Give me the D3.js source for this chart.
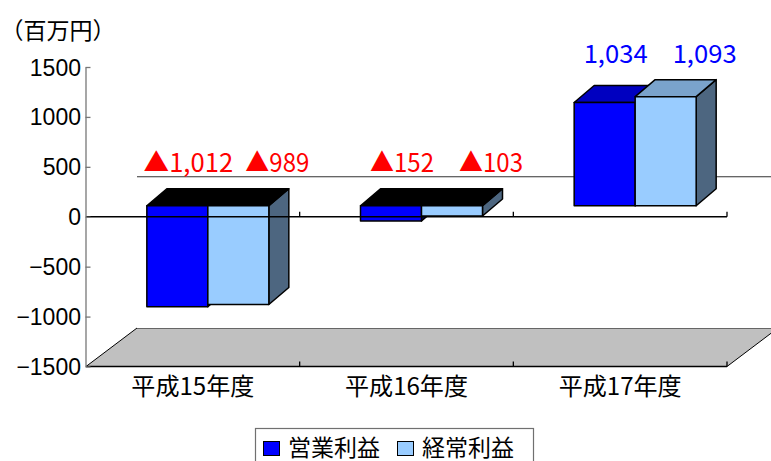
<!DOCTYPE html>
<html>
<head>
<meta charset="utf-8">
<script src="https://cdn.jsdelivr.net/npm/d3@7/dist/d3.min.js"></script>
<style>
  html, body { margin: 0; padding: 0; background: #ffffff; }
  svg { display: block; }
</style>
</head>
<body>
<svg id="chart" width="771" height="461"></svg>
<script>
// ---- data ----
const categories = ["平成15年度", "平成16年度", "平成17年度"];
const seriesNames = ["営業利益", "経常利益"];
const operatingProfit = [-1012, -152, 1034];   // 営業利益
const ordinaryProfit  = [-989, -103, 1093];    // 経常利益
const yTicks = [-1500, -1000, -500, 0, 500, 1000, 1500];
const unitLabel = "（百万円）";

// ---- layout ----
const svg = d3.select("#chart");
const JP = "'Noto Sans CJK JP', 'Noto Sans', sans-serif";
const NUM = "'Liberation Sans', Arial, sans-serif";

// width of a string set in a fixed-pitch gothic: half-width chars 0.5em, others 1em
const gothicWidth = (s, size) =>
  Array.from(s).reduce((w, c) => w + (c.charCodeAt(0) < 0x2000 ? 0.5 : 1) * size, 0);

const y = d3.scaleLinear().domain([-1500, 1500]).range([366.5, 67]);
const x = d3.scaleBand().domain(categories).range([86, 727]).padding(0);
const barW = 61;
const sub = d3.scaleBand().domain(seriesNames).range([0, barW * 2]);

// 3D offsets
const front = { dx: 15, dy: -11 };   // bar front plane relative to the axis plane
const depth = { dx: 20, dy: -17 };   // bar depth
const floorDepth = { dx: 51, dy: -38.5 };
const wallDepthDy = -40;

const series = [
  { name: seriesNames[0], values: operatingProfit, face: "#0000FF", top: "#0000C0", side: "#000080" },
  { name: seriesNames[1], values: ordinaryProfit,  face: "#99CCFF", top: "#7AA3CC", side: "#4D6680" }
];

// ---- floor ----
const y0 = y(0), yMin = y(-1500);
const xL = x.range()[0], xR = x.range()[1];
svg.append("polygon")
  .attr("points", [[xL, yMin], [xR, yMin], [xR + floorDepth.dx, yMin + floorDepth.dy],
                   [xL + floorDepth.dx, yMin + floorDepth.dy]].map(p => p.join(",")).join(" "))
  .attr("fill", "#C0C0C0").attr("stroke", "none");
svg.append("path")
  .attr("d", `M${xL},${yMin}L${xL + floorDepth.dx},${yMin + floorDepth.dy}`)
  .attr("stroke", "#000").attr("stroke-width", 1);
svg.append("path")
  .attr("d", `M${xR},${yMin}L${xR + floorDepth.dx},${yMin + floorDepth.dy}`)
  .attr("stroke", "#000").attr("stroke-width", 1);
svg.append("path")
  .attr("d", `M${xL + floorDepth.dx},${yMin + floorDepth.dy + 0.5}H${771}`)
  .attr("stroke", "#666").attr("stroke-width", 1.2);

// back wall zero line
svg.append("path")
  .attr("d", `M${xL + floorDepth.dx},${y0 + wallDepthDy}H${771}`)
  .attr("stroke", "#333").attr("stroke-width", 1.2);

// ---- bars ----
const poly = pts => pts.map(p => p.join(",")).join(" ");
const barsG = svg.append("g");
categories.forEach((cat, i) => {
  const gLeft = x(cat) + x.bandwidth() / 2 + front.dx - barW;
  series.forEach(s => {
    const v = s.values[i];
    const x0 = gLeft + sub(s.name), x1 = x0 + barW;
    const yTop = Math.min(y(v), y0) + front.dy;
    const yBot = Math.max(y(v), y0) + front.dy;
    const g = barsG.append("g")
      .attr("stroke", "#000").attr("stroke-width", 1.5).attr("stroke-linejoin", "round");
    // side
    g.append("polygon")
      .attr("points", poly([[x1, yTop], [x1 + depth.dx, yTop + depth.dy],
                            [x1 + depth.dx, yBot + depth.dy], [x1, yBot]]))
      .attr("fill", s.side);
    // top
    g.append("polygon")
      .attr("points", poly([[x0, yTop], [x0 + depth.dx, yTop + depth.dy],
                            [x1 + depth.dx, yTop + depth.dy], [x1, yTop]]))
      .attr("fill", v < 0 ? "#000" : s.top);
    // front
    g.append("rect")
      .attr("x", x0).attr("y", yTop).attr("width", barW).attr("height", yBot - yTop)
      .attr("fill", s.face);
  });
});

// ---- category axis (zero line) and floor front edge ----
const boundaries = categories.map(c => x(c) + x.bandwidth());
svg.append("path")
  .attr("d", `M${xL},${y0}H${xR}` + boundaries.map(b => `M${b},${y0}V${y0 - 5}`).join(""))
  .attr("stroke", "#000").attr("stroke-width", 1.3).attr("fill", "none");
svg.append("path")
  .attr("d", `M${xL},${yMin}H${xR}` + boundaries.map(b => `M${b},${yMin}V${yMin - 5}`).join(""))
  .attr("stroke", "#000").attr("stroke-width", 1.3).attr("fill", "none");

// ---- value axis ----
const yAxis = svg.append("g")
  .attr("transform", `translate(${xL - 0.5},0)`)
  .call(d3.axisLeft(y).tickValues(yTicks).tickFormat(d3.format("d"))
          .tickSize(-5).tickSizeOuter(0).tickPadding(4.5));
yAxis.select(".domain").attr("stroke", "#777").attr("stroke-width", 1.3);
yAxis.selectAll(".tick line").attr("stroke", "#777").attr("stroke-width", 1.3);
yAxis.selectAll(".tick text")
  .attr("font-family", NUM).attr("font-size", 23).attr("fill", "#000")
  .attr("dy", null).attr("y", 8);

// ---- category labels ----
svg.append("g").selectAll("text").data(categories).join("text")
  .attr("x", d => x(d) + x.bandwidth() / 2)
  .attr("y", 395)
  .attr("text-anchor", "middle")
  .attr("font-family", JP).attr("font-size", 24).attr("fill", "#000")
  .attr("textLength", d => gothicWidth(d, 24.6))
  .attr("lengthAdjust", "spacingAndGlyphs")
  .text(d => d);

// ---- unit label ----
svg.append("text")
  .attr("x", 58).attr("y", 38.5)
  .attr("text-anchor", "middle")
  .attr("font-family", JP).attr("font-size", 23).attr("fill", "#000")
  .text(unitLabel);

// ---- value labels ----
const fmt = v => (v < 0 ? "▲" : "") + d3.format(",")(Math.abs(v));
const labelDx = [11, 39];
const labelSize = 25.6;
categories.forEach((cat, i) => {
  const gLeft = x(cat) + x.bandwidth() / 2 + front.dx - barW;
  const topV = Math.max(0, ...series.map(s => s.values[i]));
  const ly = y(topV) + front.dy + depth.dy - 17;
  series.forEach((s, k) => {
    const v = s.values[i];
    const t = fmt(v);
    svg.append("text")
      .attr("x", gLeft + sub(s.name) + barW / 2 + labelDx[k])
      .attr("y", ly)
      .attr("text-anchor", "middle")
      .attr("font-family", JP).attr("font-size", labelSize)
      .attr("fill", v < 0 ? "#FF0000" : "#0000FF")
      .attr("textLength", gothicWidth(t, labelSize))
      .attr("lengthAdjust", "spacingAndGlyphs")
      .text(t);
  });
});

// ---- legend ----
const legend = svg.append("g");
legend.append("rect")
  .attr("x", 255.5).attr("y", 428.5).attr("width", 278).attr("height", 45)
  .attr("fill", "#fff").attr("stroke", "#707070").attr("stroke-width", 1.2);
const legendX = [263.5, 397.5];
series.forEach((s, k) => {
  legend.append("rect")
    .attr("x", legendX[k]).attr("y", 441.5).attr("width", 16).attr("height", 14)
    .attr("fill", s.face).attr("stroke", "#000").attr("stroke-width", 1);
  legend.append("text")
    .attr("x", legendX[k] + 24.5).attr("y", 455.5)
    .attr("font-family", JP).attr("font-size", 23).attr("fill", "#000")
    .text(s.name);
});
</script>
</body>
</html>
